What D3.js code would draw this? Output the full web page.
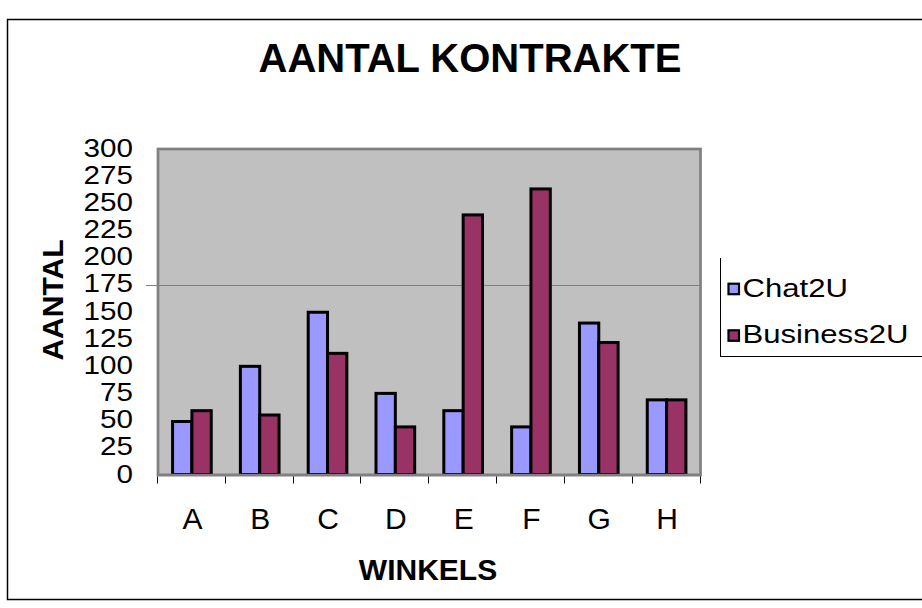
<!DOCTYPE html>
<html>
<head>
  <meta charset='utf-8'>
  <title>Aantal Kontrakte</title>
  <style>
    body { margin: 0; background: #fff; }
    text { font-family: 'Liberation Sans', Arial, sans-serif; fill: #000; }
  </style>
</head>
<body>
<div id="chart"></div>
<script src="https://cdnjs.cloudflare.com/ajax/libs/d3/7.8.5/d3.min.js"></script>
<script>

var winkels = ['A', 'B', 'C', 'D', 'E', 'F', 'G', 'H'];
var chat2u = [49, 100, 150, 75, 59, 44, 140, 69];
var business2u = [59, 55, 112, 44, 240, 264, 122, 69];
var seriesNames = ['Chat2U', 'Business2U'];
var seriesColors = ['#9999ff', '#993366'];
var yTicks = [0, 25, 50, 75, 100, 125, 150, 175, 200, 225, 250, 275, 300];
var gridValues = [175];

var width = 922, height = 608;
var plot = {left: 158, right: 700.5, top: 150, bottom: 474.5};

var svg = d3.select('#chart')
  .append('svg')
  .attr('width', width)
  .attr('height', height);

// outer frame
svg.append('rect')
  .attr('x', 7.5).attr('y', 19.5)
  .attr('width', 940).attr('height', 580)
  .attr('fill', '#fff')
  .attr('stroke', '#000')
  .attr('stroke-width', 1.5);

var x0 = d3.scaleBand()
  .domain(winkels)
  .range([plot.left, plot.right])
  .paddingInner(0.43)
  .paddingOuter(0.215);

var x1 = d3.scaleBand()
  .domain(seriesNames)
  .range([0, x0.bandwidth()]);

var y = d3.scaleLinear()
  .domain([0, 300])
  .range([plot.bottom, plot.top]);

// plot area
svg.append('rect')
  .attr('x', plot.left)
  .attr('y', y(300) - 1)
  .attr('width', plot.right - plot.left)
  .attr('height', plot.bottom - y(300) + 1.5)
  .attr('fill', '#c0c0c0')
  .attr('stroke', '#808080')
  .attr('stroke-width', 2.7);

// the single gridline (runs out past the axis)
svg.selectAll('line.grid')
  .data(gridValues)
  .enter().append('line')
  .attr('class', 'grid')
  .attr('x1', plot.left - 12)
  .attr('x2', plot.right - 1)
  .attr('y1', function(d) { return Math.round(y(d)) + 0.5; })
  .attr('y2', function(d) { return Math.round(y(d)) + 0.5; })
  .attr('stroke', '#808080')
  .attr('stroke-width', 1);

// bars
var rows = winkels.map(function(w, i) {
  return {winkel: w, values: [chat2u[i], business2u[i]]};
});

var groups = svg.selectAll('g.winkel')
  .data(rows)
  .enter().append('g')
  .attr('class', 'winkel')
  .attr('transform', function(d) { return 'translate(' + x0(d.winkel) + ',0)'; });

groups.selectAll('rect')
  .data(function(d) {
    return d.values.map(function(v, j) { return {name: seriesNames[j], value: v, color: seriesColors[j]}; });
  })
  .enter().append('rect')
  .attr('x', function(d) { return x1(d.name); })
  .attr('y', function(d) { return y(d.value); })
  .attr('width', x1.bandwidth())
  .attr('height', function(d) { return y(0) - y(d.value); })
  .attr('fill', function(d) { return d.color; })
  .attr('stroke', '#000')
  .attr('stroke-width', 3);

// baseline
svg.append('line')
  .attr('x1', plot.left - 1).attr('x2', plot.right + 1)
  .attr('y1', plot.bottom + 0.5).attr('y2', plot.bottom + 0.5)
  .attr('stroke', '#808080')
  .attr('stroke-width', 2.7);

// x tick marks at category borders
var borders = d3.range(winkels.length + 1).map(function(i) {
  return x0.range()[0] + i * x0.step();
});
svg.selectAll('line.xtick')
  .data(borders)
  .enter().append('line')
  .attr('class', 'xtick')
  .attr('x1', function(d) { return Math.round(d) - 0.5; })
  .attr('x2', function(d) { return Math.round(d) - 0.5; })
  .attr('y1', plot.bottom + 2)
  .attr('y2', plot.bottom + 9)
  .attr('stroke', '#000')
  .attr('stroke-width', 1);

// x axis labels
var xAxis = svg.append('g')
  .attr('transform', 'translate(0,' + plot.bottom + ')')
  .call(d3.axisBottom(d3.scalePoint().domain(winkels)
    .range([x0(winkels[0]) + x0.bandwidth() / 2, x0(winkels[winkels.length - 1]) + x0.bandwidth() / 2]))
    .tickSize(0));
xAxis.select('.domain').remove();
xAxis.selectAll('text')
  .attr('y', 54)
  .attr('dy', null)
  .attr('font-size', '30px')
  .attr('font-family', "'Liberation Sans', Arial, sans-serif");

// y axis labels (Excel squeezes them together, slightly wide glyphs)
var yAxis = svg.append('g')
  .attr('transform', 'translate(133,0)')
  .call(d3.axisLeft(y).tickValues(yTicks).tickSize(0));
yAxis.select('.domain').remove();
yAxis.selectAll('text')
  .attr('x', 0)
  .attr('dy', null)
  .attr('y', function(d) { return 7.5 - d / 300 * 1.5; })
  .attr('text-anchor', 'end')
  .attr('font-size', '26px')
  .attr('font-family', "'Liberation Sans', Arial, sans-serif")
  .attr('transform', 'scale(1.14,1)');

// titles
svg.append('text')
  .attr('x', 470)
  .attr('y', 72)
  .attr('text-anchor', 'middle')
  .attr('font-size', '40px')
  .attr('font-weight', 'bold')
  .text('AANTAL KONTRAKTE');

svg.append('text')
  .attr('x', 428)
  .attr('y', 580)
  .attr('text-anchor', 'middle')
  .attr('font-size', '30px')
  .attr('font-weight', 'bold')
  .text('WINKELS');

svg.append('text')
  .attr('transform', 'translate(63,300) rotate(-90)')
  .attr('text-anchor', 'middle')
  .attr('font-size', '30px')
  .attr('font-weight', 'bold')
  .text('AANTAL');

// legend
var legend = svg.append('g');
legend.append('line')
  .attr('x1', 720.5).attr('x2', 720.5)
  .attr('y1', 258).attr('y2', 356.5)
  .attr('stroke', '#000').attr('stroke-width', 1);
legend.append('line')
  .attr('x1', 720).attr('x2', 922)
  .attr('y1', 356.5).attr('y2', 356.5)
  .attr('stroke', '#000').attr('stroke-width', 1);

var legendRows = [296.7, 343.3];
var items = legend.selectAll('g.item')
  .data(seriesNames)
  .enter().append('g')
  .attr('class', 'item')
  .attr('transform', function(d, i) { return 'translate(0,' + legendRows[i] + ')'; });

items.append('rect')
  .attr('x', 728.5)
  .attr('y', -13)
  .attr('width', 10.5)
  .attr('height', 10.5)
  .attr('fill', function(d, i) { return seriesColors[i]; })
  .attr('stroke', '#000')
  .attr('stroke-width', 2.2);

items.append('text')
  .attr('transform', 'translate(742.5,0) scale(1.22,1)')
  .attr('font-size', '25.5px')
  .text(function(d) { return d; });

</script>
</body>
</html>
